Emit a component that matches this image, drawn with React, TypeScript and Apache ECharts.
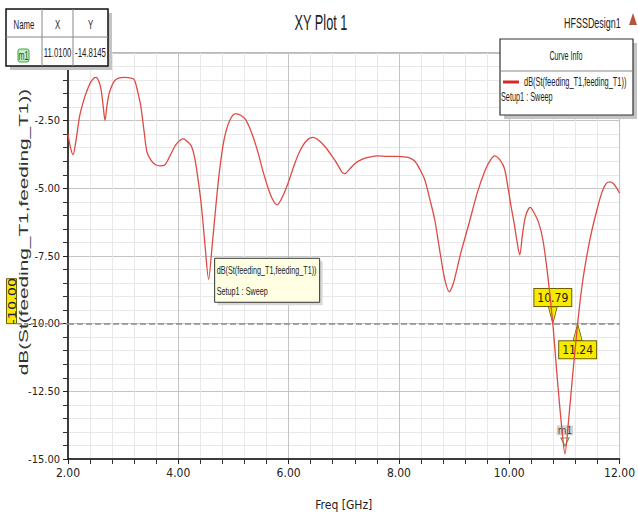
import React, { useEffect, useRef } from "react";
import * as echarts from "echarts";

const freqGHz = [
  2.0, 2.04, 2.09, 2.14, 2.21, 2.27, 2.33, 2.42, 2.51, 2.56, 2.6, 2.64, 2.67, 2.71, 2.75, 2.84, 2.93, 3.03, 3.12, 3.2,
  3.26, 3.32, 3.38, 3.43, 3.5, 3.58, 3.67, 3.76, 3.86, 3.97, 4.09, 4.18, 4.24, 4.3, 4.36, 4.42, 4.48, 4.55, 4.61, 4.68,
  4.75, 4.83, 4.93, 5.04, 5.13, 5.22, 5.32, 5.43, 5.54, 5.64, 5.72, 5.79, 5.88, 5.99, 6.1, 6.2, 6.32, 6.44, 6.56, 6.68,
  6.8, 6.89, 6.96, 7.02, 7.1, 7.21, 7.33, 7.46, 7.61, 7.8, 7.96, 8.14, 8.22, 8.29, 8.38, 8.47, 8.56, 8.65, 8.74, 8.83,
  8.91, 8.98, 9.05, 9.12, 9.27, 9.42, 9.56, 9.66, 9.74, 9.82, 9.91, 9.98, 10.04, 10.09, 10.14, 10.19, 10.24, 10.3, 10.38,
  10.45, 10.53, 10.61, 10.7, 10.79, 10.87, 10.95, 11.01, 11.07, 11.15, 11.24, 11.32, 11.41, 11.5, 11.59, 11.68, 11.76,
  11.83, 11.9, 11.96, 12.0,
];
const dbS11 = [
  -3.0, -3.45, -3.76, -3.3, -2.34, -1.85, -1.47, -1.05, -0.9, -1.05, -1.35, -2.0, -2.49, -1.9, -1.47, -1.04, -0.92, -0.9,
  -0.92, -0.98, -1.4, -1.97, -2.9, -3.64, -3.95, -4.12, -4.17, -4.13, -3.75, -3.35, -3.17, -3.3, -3.45, -3.9, -4.7, -5.67,
  -7.0, -8.36, -7.2, -5.67, -4.3, -3.2, -2.5, -2.24, -2.3, -2.46, -2.9, -3.57, -4.4, -5.06, -5.45, -5.61, -5.35, -4.81,
  -4.15, -3.64, -3.25, -3.12, -3.25, -3.51, -3.85, -4.13, -4.38, -4.46, -4.3, -4.07, -3.93, -3.85, -3.8, -3.82, -3.82,
  -3.85, -3.9, -4.0, -4.3, -4.69, -5.4, -6.17, -7.3, -8.35, -8.82, -8.55, -8.0, -7.4, -6.3, -5.17, -4.35, -3.95, -3.8,
  -3.92, -4.25, -5.0, -5.75, -6.3, -6.95, -7.46, -6.7, -6.0, -5.7, -5.9, -6.25, -6.9, -8.25, -10.0, -12.0, -13.8, -14.81,
  -13.7, -11.9, -10.0, -8.6, -7.45, -6.54, -5.8, -5.15, -4.82, -4.76, -4.85, -5.03, -5.18,
];
const crossFreqs = [10.79, 11.24];
const thresholdDb = -10;
const markerName = "m1";
const markerFreq = 11.01;
const markerDb = -14.8145;
const dipFreq = 4.55;
const dipDb = -8.36;
const seriesName = "dB(St(feeding_T1,feeding_T1))";
const setupName = "Setup1 : Sweep";
const tableHeader = ["Name", "X", "Y"];

const NARROW = "'Liberation Sans Narrow', 'DejaVu Sans Condensed', 'Liberation Sans', Arial, sans-serif";
const SANS = "'Liberation Sans', Arial, sans-serif";

function txt(text: string, x: number, y: number, o: any = {}) {
  return {
    type: "text",
    x,
    y,
    z: 100,
    scaleX: o.scaleX ?? 0.62,
    scaleY: o.scaleY ?? 1,
    rotation: o.rotation ?? 0,
    style: {
      text,
      fill: o.fill ?? "#222",
      fontSize: o.fontSize ?? 12,
      fontFamily: o.fontFamily ?? SANS,
      fontWeight: o.fontWeight ?? "normal",
      align: o.align ?? "left",
      textAlign: o.align ?? "left",
      verticalAlign: "middle",
      textVerticalAlign: "middle",
    },
  };
}

export default function App() {
  const ref = useRef<HTMLDivElement>(null);
  useEffect(() => {
    const chart = echarts.init(ref.current!, null, { renderer: "svg" });
    const yellow = "#f7ea00";
    const yellowBorder = "#6e6200";
    chart.setOption({
      animation: false,
      backgroundColor: "#ffffff",
      grid: { left: 68, right: 9, top: 53, bottom: 59, show: true, borderColor: "#777", borderWidth: 1 },
      xAxis: {
        type: "value",
        min: 2,
        max: 12,
        interval: 2,
        axisLine: { show: true, onZero: false, lineStyle: { color: "#111", width: 1.5 } },
        axisTick: { show: true, length: 5, lineStyle: { color: "#222" } },
        minorTick: { show: true, splitNumber: 5, length: 5, lineStyle: { color: "#333" } },
        splitLine: { show: true, lineStyle: { color: "#c4c4c4" } },
        minorSplitLine: { show: true, lineStyle: { color: "#e8e8e8" } },
        axisLabel: {
          formatter: (v: number) => v.toFixed(2),
          fontFamily: NARROW,
          fontSize: 12,
          color: "#222",
          margin: 8,
        },
        name: "Freq [GHz]",
        nameLocation: "middle",
        nameGap: 40,
        nameTextStyle: { fontFamily: NARROW, fontSize: 12, color: "#222" },
      },
      yAxis: {
        type: "value",
        min: -15,
        max: 0,
        interval: 2.5,
        axisLine: { show: true, onZero: false, lineStyle: { color: "#111", width: 1.5 } },
        axisTick: { show: true, length: 5, lineStyle: { color: "#222" } },
        minorTick: { show: true, splitNumber: 5, length: 5, lineStyle: { color: "#333" } },
        splitLine: { show: true, lineStyle: { color: "#c4c4c4" } },
        minorSplitLine: { show: true, lineStyle: { color: "#e8e8e8" } },
        axisLabel: {
          formatter: (v: number) => (v === 0 ? "" : v.toFixed(2)),
          fontFamily: NARROW,
          fontSize: 11,
          color: "#222",
          margin: 8,
        },
      },
      series: [
        {
          type: "line",
          name: seriesName,
          data: freqGHz.map((f, i) => [f, dbS11[i]]),
          showSymbol: false,
          smooth: 0.3,
          lineStyle: { color: "#de4a44", width: 1.3 },
          z: 5,
          markLine: {
            silent: true,
            symbol: ["none", "none"],
            label: { show: false },
            lineStyle: { type: "dashed", color: "#8c8c8c", width: 1.5 },
            data: [{ yAxis: thresholdDb }],
          },
          markPoint: {
            silent: true,
            data: [
              {
                coord: [crossFreqs[0], thresholdDb],
                symbol: "path://M0,0L10,0L5,17Z",
                symbolSize: [9, 17],
                symbolOffset: [0, -8.5],
                itemStyle: { color: yellow, borderColor: yellowBorder, borderWidth: 1 },
                label: {
                  show: true,
                  position: "top",
                  distance: 0,
                  formatter: crossFreqs[0].toFixed(2),
                  backgroundColor: yellow,
                  borderColor: yellowBorder,
                  borderWidth: 1,
                  padding: [3, 3, 2, 3],
                  color: "#222",
                  fontSize: 12,
                  fontFamily: NARROW,
                },
              },
              {
                coord: [crossFreqs[1], thresholdDb],
                symbol: "path://M5,0L10,17L0,17Z",
                symbolSize: [9, 17],
                symbolOffset: [0, 8.5],
                itemStyle: { color: yellow, borderColor: yellowBorder, borderWidth: 1 },
                label: {
                  show: true,
                  position: "bottom",
                  distance: 0,
                  formatter: crossFreqs[1].toFixed(2),
                  backgroundColor: yellow,
                  borderColor: yellowBorder,
                  borderWidth: 1,
                  padding: [3, 3, 2, 3],
                  color: "#222",
                  fontSize: 12,
                  fontFamily: NARROW,
                },
              },
              {
                coord: [markerFreq, markerDb],
                symbol: "path://M0,0L10,0L5,9Z",
                symbolSize: [8, 8],
                symbolOffset: [0, -12],
                itemStyle: { color: "rgba(255,255,255,0.6)", borderColor: "#5aa85a", borderWidth: 1.2 },
                label: {
                  show: true,
                  position: "top",
                  distance: 2,
                  formatter: markerName,
                  color: "#444",
                  backgroundColor: "#d4d4d4",
                  padding: [0, 1],
                  fontSize: 10,
                  fontFamily: NARROW,
                },
              },
            ],
          },
        },
      ],
    });

    const px = (x: number, y: number) => chart.convertToPixel({ gridIndex: 0 }, [x, y]) as number[];
    const thr = px(2, thresholdDb);
    const dip = px(dipFreq, dipDb);
    const ax = dip[0] + 6;
    const ay = dip[1] - 21;

    const graphic: any[] = [
      txt("XY Plot 1", 321, 23, { fontSize: 22, scaleX: 0.58, align: "center" }),
      txt("HFSSDesign1", 564, 23, { fontSize: 14, scaleX: 0.64 }),
      { type: "polygon", z: 100, shape: { points: [[629, 25], [633, 13], [637, 25]] }, style: { fill: "#b5533d" } },
      // marker table
      { type: "rect", z: 99, shape: { x: 10, y: 13, width: 102, height: 57 }, style: { fill: "#c4c4c4" } },
      { type: "rect", z: 100, shape: { x: 6, y: 9, width: 102, height: 57 }, style: { fill: "#fff", stroke: "#111", lineWidth: 1.5 } },
      { type: "line", z: 100, shape: { x1: 6, y1: 37, x2: 108, y2: 37 }, style: { stroke: "#888", lineWidth: 1 } },
      { type: "line", z: 100, shape: { x1: 42, y1: 9, x2: 42, y2: 66 }, style: { stroke: "#888", lineWidth: 1 } },
      { type: "line", z: 100, shape: { x1: 73, y1: 9, x2: 73, y2: 66 }, style: { stroke: "#888", lineWidth: 1 } },
      txt(tableHeader[0], 24, 24, { fontSize: 13, scaleX: 0.6, align: "center" }),
      txt(tableHeader[1], 57.5, 24, { fontSize: 13, scaleX: 0.6, align: "center" }),
      txt(tableHeader[2], 90.5, 24, { fontSize: 13, scaleX: 0.6, align: "center" }),
      { type: "rect", z: 100, shape: { x: 18, y: 49, width: 11, height: 13, r: 2 }, style: { fill: "#c9ecc9", stroke: "#3da43d", lineWidth: 1 } },
      txt(markerName, 23.5, 55.5, { fontSize: 12, scaleX: 0.6, align: "center", fill: "#225522" }),
      txt(markerFreq.toFixed(4), 57.5, 52, { fontSize: 13, scaleX: 0.6, align: "center" }),
      txt(markerDb.toFixed(4), 90.5, 52, { fontSize: 13, scaleX: 0.6, align: "center" }),
      // curve info box
      { type: "rect", z: 99, shape: { x: 504, y: 43, width: 133, height: 76 }, style: { fill: "#c4c4c4" } },
      { type: "rect", z: 100, shape: { x: 500, y: 39, width: 133, height: 76 }, style: { fill: "#fff", stroke: "#333", lineWidth: 1.2 } },
      { type: "line", z: 100, shape: { x1: 500, y1: 71, x2: 633, y2: 71 }, style: { stroke: "#888", lineWidth: 1 } },
      txt("Curve Info", 566, 56, { fontSize: 12, scaleX: 0.6, align: "center" }),
      { type: "rect", z: 100, shape: { x: 503, y: 80.5, width: 16, height: 3 }, style: { fill: "#d42a22" } },
      txt(seriesName, 524, 82, { fontSize: 12, scaleX: 0.62 }),
      txt(setupName, 501, 97, { fontSize: 12, scaleX: 0.61 }),
      // y axis name
      txt(seriesName, 24, 232, { fontSize: 13, scaleX: 1.6, rotation: Math.PI / 2, align: "center", fill: "#333" }),
      // threshold extension and label
      { type: "line", z: 100, shape: { x1: 17, y1: thr[1], x2: thr[0], y2: thr[1] }, style: { stroke: "#8c8c8c", lineWidth: 1.5, lineDash: [4, 3] } },
      { type: "rect", z: 101, shape: { x: 6.5, y: thr[1] - 45, width: 10, height: 45 }, style: { fill: yellow, stroke: yellowBorder, lineWidth: 1 } },
      { ...txt(thresholdDb.toFixed(2), 12, thr[1] - 22.5, { fontSize: 10, scaleX: 1.45, rotation: Math.PI / 2, align: "center", fill: "#1a1a55", fontFamily: "'DejaVu Sans', sans-serif" }), z: 102 },
      // annotation box by the dip
      { type: "rect", z: 99, shape: { x: ax + 3, y: ay + 3, width: 105, height: 44 }, style: { fill: "#d8d8d8" } },
      { type: "rect", z: 100, shape: { x: ax, y: ay, width: 105, height: 44 }, style: { fill: "#ffffe3", stroke: "#333", lineWidth: 1 } },
      txt(seriesName, ax + 2, ay + 12, { fontSize: 11, scaleX: 0.66 }),
      txt(setupName, ax + 2, ay + 33, { fontSize: 11, scaleX: 0.66 }),
    ];
    chart.setOption({ graphic });
    return () => chart.dispose();
  }, []);
  return <div ref={ref} style={{ width: 638, height: 518, position: "absolute", left: 0, top: 0 }} />;
}
